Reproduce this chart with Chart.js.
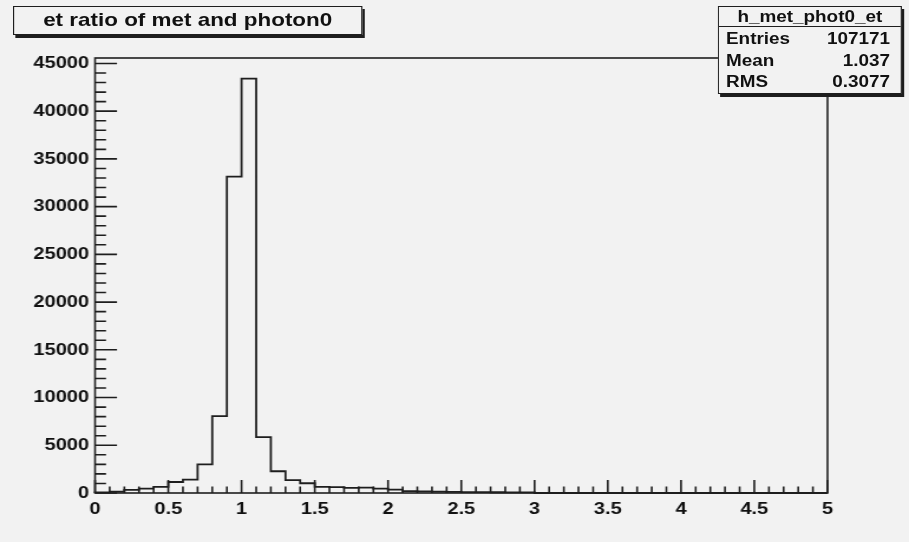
<!DOCTYPE html>
<html>
<head>
<meta charset="utf-8">
<script src="https://cdn.jsdelivr.net/npm/chart.js@4.4.1/dist/chart.umd.min.js"></script>
<style>
  html, body { margin: 0; padding: 0; background: #f2f2f2; }
  body { width: 909px; height: 542px; overflow: hidden; }
  /* the reference is stretched sideways, so draw narrow and scale up */
  #stage {
    position: absolute; left: 0; top: 0;
    width: 770px; height: 542px;
    transform: scaleX(1.1805); transform-origin: 0 0;
    font-family: "Liberation Sans", Arial, sans-serif; font-weight: bold; color: #111;
  }
  #wrap { position: absolute; left: 0; top: 0; width: 770px; height: 542px; }
  .title-box {
    position: absolute; left: 11px; top: 6px; width: 296px; height: 29px;
    box-sizing: border-box; border: 1.5px solid #1e1e1e; background: #f2f2f2;
    box-shadow: 2px 3px 0 #1e1e1e;
    font-size: 19px; line-height: 26px; text-align: center;
  }
  .stats-box {
    position: absolute; left: 608px; top: 6px; width: 156px; height: 88px;
    box-sizing: border-box; border: 1.5px solid #1e1e1e; background: #f2f2f2;
    box-shadow: 2px 3px 0 #1e1e1e;
    font-size: 16px;
  }
  .stats-box .head { height: 19px; line-height: 19px; text-align: center; border-bottom: 1.5px solid #1e1e1e; margin-bottom: 1px; }
  .stats-box .row { position: relative; height: 21.5px; line-height: 21.5px; padding: 0 9px 0 6px; }
  .stats-box .row span:last-child { position: absolute; right: 9px; }
</style>
</head>
<body>
<div id="stage">
  <div id="wrap"><canvas id="hist"></canvas></div>
  <div class="title-box">et ratio of met and photon0</div>
  <div class="stats-box">
    <div class="head">h_met_phot0_et</div>
    <div class="row"><span>Entries</span><span>107171</span></div>
    <div class="row"><span>Mean</span><span>1.037</span></div>
    <div class="row"><span>RMS</span><span>0.3077</span></div>
  </div>
</div>
<script>
// HISTOGRAM DATA //

const xMin = 0;
const xMax = 5;
const binWidth = 0.1;
const binCounts = [
  60, 150, 330, 450, 650, 1150, 1400, 3000, 8050, 33150,
  43400, 5850, 2280, 1340, 1020, 640, 620, 540, 560, 460,
  350, 200, 170, 140, 120, 100, 90, 80, 70, 60,
  0, 0, 0, 0, 0, 0, 0, 0, 0, 0,
  0, 0, 0, 0, 0, 0, 0, 0, 0, 0
];
const xTickStep = 0.5;
const yTickStep = 5000;
const xMinorStep = 0.1;
const yMinorStep = 1000;

// step outline points: left edge of every bin, then back down at xMax
const points = [{ x: xMin, y: 0 }];
binCounts.forEach((c, i) => points.push({ x: xMin + i * binWidth, y: c }));
points.push({ x: xMax, y: 0 });

const yMax = Math.max(...binCounts) * 1.05;
const ink = '#1e1e1e';
const tickFont = { family: '"Liberation Sans", Arial, sans-serif', size: 17, weight: 'bold' };

// ROOT style frame with ticks pointing inwards
const rootFrame = {
  id: 'rootFrame',
  afterDatasetsDraw(chart) {
    const { ctx, chartArea: a, scales: { x, y } } = chart;
    ctx.save();
    ctx.strokeStyle = ink;
    ctx.lineWidth = 1.6;
    ctx.strokeRect(a.left, a.top, a.right - a.left, a.bottom - a.top);
    ctx.beginPath();
    const yMajLen = (a.right - a.left) * 0.03;
    const nY = Math.floor(y.max / yMinorStep);
    for (let i = 0; i <= nY; i++) {
      const v = i * yMinorStep;
      const py = y.getPixelForValue(v);
      const len = (v % yTickStep === 0) ? yMajLen : yMajLen / 2;
      ctx.moveTo(a.left, py);
      ctx.lineTo(a.left + len, py);
    }
    const xMajLen = (a.bottom - a.top) * 0.03;
    const nX = Math.round((x.max - x.min) / xMinorStep);
    for (let i = 0; i <= nX; i++) {
      const px = x.getPixelForValue(x.min + i * xMinorStep);
      const len = (i % 5 === 0) ? xMajLen : xMajLen / 2;
      ctx.moveTo(px, a.bottom);
      ctx.lineTo(px, a.bottom - len);
    }
    ctx.stroke();
    ctx.restore();
  }
};

const histCanvas = document.getElementById('hist');

const histChart = new Chart(histCanvas, {
  type: 'line',
  data: {
    datasets: [{
      data: points,
      stepped: 'before',
      borderColor: ink,
      borderWidth: 1.8,
      pointRadius: 0,
      fill: false,
      clip: 6
    }]
  },
  options: {
    responsive: true,
    maintainAspectRatio: false,
    animation: false,
    layout: { padding: { top: 58, right: 69, left: 0, bottom: 0 } },
    scales: {
      x: {
        type: 'linear',
        min: xMin,
        max: xMax,
        grid: { display: false, drawTicks: false },
        border: { display: false },
        ticks: {
          stepSize: xTickStep,
          includeBounds: false,
          autoSkip: false,
          maxRotation: 0,
          padding: 6,
          color: '#111',
          font: tickFont,
          callback: v => String(v)
        },
        afterFit: s => { s.height = 49; }
      },
      y: {
        min: 0,
        max: yMax,
        grid: { display: false, drawTicks: false },
        border: { display: false },
        ticks: {
          padding: 5,
          color: '#111',
          font: tickFont,
          callback: v => String(v)
        },
        afterBuildTicks: s => {
          s.ticks = [];
          for (let v = 0; v <= s.max; v += yTickStep) s.ticks.push({ value: v });
        },
        afterFit: s => { s.width = 80.5; }
      }
    },
    plugins: {
      legend: { display: false },
      tooltip: { enabled: false }
    }
  },
  plugins: [rootFrame]
});
</script>
</body>
</html>
